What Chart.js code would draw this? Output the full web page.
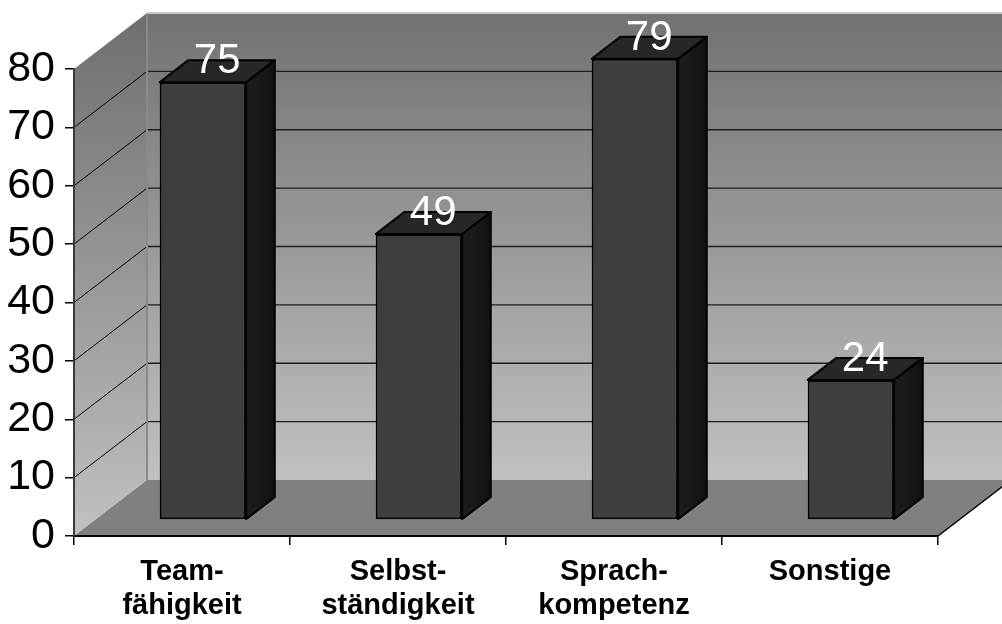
<!DOCTYPE html>
<html>
<head>
<meta charset="utf-8">
<style>
  html, body { margin: 0; padding: 0; background: #ffffff; }
  canvas { display: block; }
</style>
<script src="https://cdn.jsdelivr.net/npm/chart.js@4.4.0/dist/chart.umd.min.js"></script>
</head>
<body>
<canvas id="chart" width="1002" height="624"></canvas>
<script>
// Chart data
const categories = [['Team-', 'fähigkeit'], ['Selbst-', 'ständigkeit'], ['Sprach-', 'kompetenz'], ['Sonstige']];
const values = [75, 49, 79, 24];
const yTicks = [0, 10, 20, 30, 40, 50, 60, 70, 80];

const FONT = '"Liberation Sans", Arial, Helvetica, sans-serif';

// 3D projection: full depth of the floor, and where the bars sit inside it
const WALL_DX = 73, WALL_DY = 56;
const BAR_FRONT = 0.286, BAR_BACK = 0.679;
const FX = WALL_DX * BAR_FRONT, FY = WALL_DY * BAR_FRONT;
const BDX = WALL_DX * (BAR_BACK - BAR_FRONT), BDY = WALL_DY * (BAR_BACK - BAR_FRONT);

const yMin = yTicks[0], yMax = yTicks[yTicks.length - 1], yStep = yTicks[1] - yTicks[0];

// Side wall, back wall, floor and wall grid lines
const wallsPlugin = {
  id: 'walls',
  beforeDraw(chart) {
    const { ctx, chartArea: a, scales: { y } } = chart;
    const L = a.left, R = a.right;
    const B = y.getPixelForValue(yMin), T = y.getPixelForValue(yMax);
    ctx.save();

    // back wall
    let g = ctx.createLinearGradient(0, T - WALL_DY, 0, B - WALL_DY);
    g.addColorStop(0, '#727272');
    g.addColorStop(1, '#c1c1c1');
    ctx.fillStyle = g;
    ctx.fillRect(L + WALL_DX, T - WALL_DY, R - L + 20, B - T);

    // side wall
    g = ctx.createLinearGradient(0, T - WALL_DY, 0, B);
    g.addColorStop(0, '#6e6e6e');
    g.addColorStop(1, '#c1c1c1');
    ctx.fillStyle = g;
    ctx.beginPath();
    ctx.moveTo(L, T);
    ctx.lineTo(L + WALL_DX, T - WALL_DY);
    ctx.lineTo(L + WALL_DX, B - WALL_DY);
    ctx.lineTo(L, B);
    ctx.closePath();
    ctx.fill();

    // floor
    ctx.fillStyle = '#808080';
    ctx.beginPath();
    ctx.moveTo(L, B);
    ctx.lineTo(L + WALL_DX, B - WALL_DY);
    ctx.lineTo(R + WALL_DX, B - WALL_DY);
    ctx.lineTo(R, B);
    ctx.closePath();
    ctx.fill();

    // grid lines on back wall and side wall
    yTicks.forEach(v => {
      if (v === yMin || v === yMax) return;
      const py = y.getPixelForValue(v);
      ctx.strokeStyle = '#1c1c1c';
      ctx.lineWidth = 1.3;
      ctx.beginPath();
      ctx.moveTo(L + WALL_DX, py - WALL_DY);
      ctx.lineTo(R + WALL_DX, py - WALL_DY);
      ctx.stroke();
      ctx.strokeStyle = '#000000';
      ctx.lineWidth = 1;
      ctx.beginPath();
      ctx.moveTo(L, py);
      ctx.lineTo(L + WALL_DX, py - WALL_DY);
      ctx.stroke();
    });

    // wall edges
    ctx.strokeStyle = '#8a8a8a';
    ctx.lineWidth = 2;
    ctx.beginPath();
    ctx.moveTo(L + WALL_DX, T - WALL_DY);
    ctx.lineTo(L + WALL_DX, B - WALL_DY);
    ctx.stroke();
    ctx.strokeStyle = '#c8c8c8';
    ctx.beginPath();
    ctx.moveTo(L + WALL_DX, T - WALL_DY);
    ctx.lineTo(R + WALL_DX, T - WALL_DY);
    ctx.stroke();

    // right edge of the floor
    ctx.strokeStyle = '#000000';
    ctx.lineWidth = 1.5;
    ctx.beginPath();
    ctx.moveTo(R, B);
    ctx.lineTo(R + WALL_DX, B - WALL_DY);
    ctx.stroke();

    ctx.restore();
  }
};

// Side and top faces of the bars, front faces shifted into depth, value labels
const bars3dPlugin = {
  id: 'bars3d',
  beforeDatasetsDraw(chart) {
    const ctx = chart.ctx;
    const meta = chart.getDatasetMeta(0);
    ctx.save();
    ctx.lineWidth = 2;
    ctx.lineJoin = 'round';
    ctx.strokeStyle = '#000000';
    meta.data.forEach(el => {
      const p = el.getProps(['x', 'y', 'base', 'width'], true);
      const x0 = p.x - p.width / 2 + FX, x1 = p.x + p.width / 2 + FX;
      const top = p.y - FY, bot = p.base - FY;

      // right side face
      const g = ctx.createLinearGradient(x1, 0, x1 + BDX, 0);
      g.addColorStop(0, '#1e1e1e');
      g.addColorStop(1, '#111111');
      ctx.fillStyle = g;
      ctx.beginPath();
      ctx.moveTo(x1, top);
      ctx.lineTo(x1 + BDX, top - BDY);
      ctx.lineTo(x1 + BDX, bot - BDY);
      ctx.lineTo(x1, bot);
      ctx.closePath();
      ctx.fill();
      ctx.stroke();

      // top face
      ctx.fillStyle = '#272727';
      ctx.beginPath();
      ctx.moveTo(x0, top);
      ctx.lineTo(x0 + BDX, top - BDY);
      ctx.lineTo(x1 + BDX, top - BDY);
      ctx.lineTo(x1, top);
      ctx.closePath();
      ctx.fill();
      ctx.stroke();
    });
    ctx.restore();

    // the library draws the front faces, moved into depth
    ctx.save();
    ctx.translate(FX, -FY);
  },
  afterDatasetsDraw(chart) {
    const ctx = chart.ctx;
    ctx.restore();
    const meta = chart.getDatasetMeta(0);
    ctx.save();
    ctx.font = '42px ' + FONT;
    ctx.fillStyle = '#ffffff';
    ctx.textAlign = 'center';
    ctx.textBaseline = 'alphabetic';
    meta.data.forEach((el, i) => {
      const p = el.getProps(['x', 'y'], true);
      ctx.fillText(String(values[i]), p.x + FX + BDX / 2, p.y - FY - BDY / 2 + 2);
    });
    ctx.restore();
  }
};

new Chart(document.getElementById('chart'), {
  type: 'bar',
  data: {
    labels: categories,
    datasets: [{
      data: values,
      backgroundColor: '#3e3e3e',
      borderColor: '#000000',
      borderWidth: 2,
      borderSkipped: false,
      barPercentage: 0.4,
      categoryPercentage: 1,
      clip: false
    }]
  },
  options: {
    responsive: false,
    animation: false,
    devicePixelRatio: 1,
    layout: { padding: { top: 69, right: 64, left: 0, bottom: 0 } },
    plugins: {
      legend: { display: false },
      tooltip: { enabled: false }
    },
    scales: {
      x: {
        grid: { drawOnChartArea: false, tickLength: 9, color: '#000000', lineWidth: 1.5, offset: true },
        border: { color: '#000000', width: 2 },
        ticks: {
          color: '#000000',
          font: { family: FONT, size: 29, weight: 'bold', lineHeight: 1.18 },
          padding: 10,
          maxRotation: 0,
          autoSkip: false
        },
        afterFit(scale) { scale.height = 88; }
      },
      y: {
        min: yMin,
        max: yMax,
        ticks: {
          stepSize: yStep,
          color: '#000000',
          font: { family: FONT, size: 43 },
          padding: 10
        },
        grid: { drawOnChartArea: false, tickLength: 9, color: '#000000', lineWidth: 1.5 },
        border: { color: '#3a3a3a', width: 2 },
        afterFit(scale) { scale.width = 74; }
      }
    }
  },
  plugins: [wallsPlugin, bars3dPlugin]
});
</script>
</body>
</html>
